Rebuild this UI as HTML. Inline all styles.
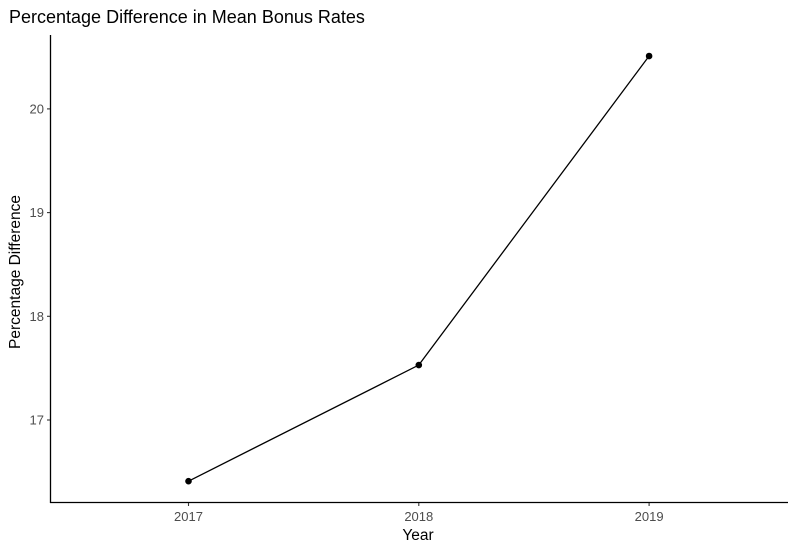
<!DOCTYPE html>
<html><head><meta charset="utf-8"><style>
body{margin:0;background:#fff}
svg{display:block;font-family:"Liberation Sans",Arial,sans-serif}
</style></head><body>
<svg id="chart" width="796" height="551">
<text x="9" y="23" font-size="18" fill="#000">Percentage Difference in Mean Bonus Rates</text>
<text x="418" y="540" font-size="15.5" text-anchor="middle" fill="#000">Year</text>
<text transform="translate(20,272) rotate(-90)" font-size="15.5" text-anchor="middle" fill="#000">Percentage Difference</text>
<g id="axes"></g>
<g id="marks"></g>
</svg>
<script>
const categories = ["2017","2018","2019"];
const values = [16.41, 17.53, 20.51];
const yTicks = [17, 18, 19, 20];
const NS = "http://www.w3.org/2000/svg";
function xScale(i){ return 188.5 + i*230.3; }
function yScale(v){ return 420 - (v-17)*103.7; }
function mk(tag, attrs, parent){ const e=document.createElementNS(NS,tag); for(const k in attrs) e.setAttribute(k,attrs[k]); parent.appendChild(e); return e; }
const axes=document.getElementById('axes'), marks=document.getElementById('marks');
let e;
e=mk('line',{x1:50.5,y1:35,x2:50.5,y2:503,stroke:'#000','stroke-width':1.3},axes);


e=mk('line',{x1:50,y1:502.5,x2:788,y2:502.5,stroke:'#000','stroke-width':1.3},axes);


yTicks.forEach(t=>{
  const y=yScale(t);
  e=mk('line',{x1:47,y1:y,x2:50,y2:y,stroke:'#333','stroke-width':1.1},axes);
  
  
  e=mk('text',{x:44,y:y+4.5,'font-size':13,'text-anchor':'end',fill:'#4d4d4d'},axes);
  e.textContent=t;
  
  
});
categories.forEach((c,i)=>{
  const x=xScale(i);
  e=mk('line',{x1:x,y1:503,x2:x,y2:506,stroke:'#333','stroke-width':1.1},axes);
  
  
  e=mk('text',{x:x,y:521,'font-size':13,'text-anchor':'middle',fill:'#4d4d4d'},axes);
  e.textContent=c;
  
  
});
e=mk('polyline',{points:values.map((v,i)=>xScale(i)+','+yScale(v)).join(' '),fill:'none',stroke:'#000','stroke-width':1.3},marks);


values.forEach((v,i)=>{
  e=mk('circle',{cx:xScale(i),cy:yScale(v),r:3.3,fill:'#000'},marks);
  
  
});
</script>
</body></html>
